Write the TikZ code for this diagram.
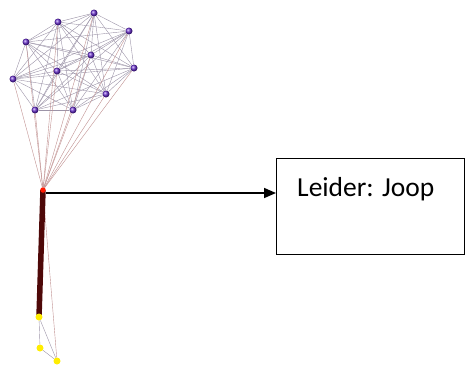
\documentclass[tikz,border=0pt]{standalone}
\usepackage{fontspec}
\setmainfont{Carlito}
\usetikzlibrary{arrows.meta,backgrounds}
\definecolor{paars}{HTML}{6A2FD0}
\definecolor{lijnpaars}{HTML}{9C94A8}
\definecolor{lijnrood}{HTML}{C09090}
\definecolor{bruinrood}{HTML}{4E0808}
\begin{document}
\begin{tikzpicture}[x=1pt,y=-1pt,
    lid/.style={circle,inner sep=0pt,minimum size=7pt,ball color=paars},
    geel/.style={circle,inner sep=0pt,minimum size=7pt,fill=yellow!95!orange},
    leider/.style={circle,inner sep=0pt,minimum size=5.5pt,fill=red!80!orange},
    dun/.style={lijnpaars,line width=0.4pt},
    dunrood/.style={lijnrood,line width=0.4pt},
    pijl/.style={line width=1.6pt,-{Triangle[length=12pt,width=10pt]}}]
    \useasboundingbox (0,0) rectangle (465,367);
    % groep
    \foreach \n/\x/\y in {1/94/13,2/58/22,3/129/31,4/26/42,5/91/55,6/134/68,
                          7/57/71,8/13/79,9/106/94,10/35/110,11/73/110}
        \node[lid] (p\n) at (\x,\y) {};
    \node[leider] (lead) at (43,190) {};
    \node[geel] (g1) at (39,317) {};
    \node[geel] (g2) at (40,348) {};
    \node[geel] (g3) at (57,361) {};
    %
    \begin{pgfonlayer}{background}
        \foreach \i in {1,...,10} {
            \pgfmathtruncatemacro{\k}{\i+1}
            \foreach \j in {\k,...,11}
                \draw[dun] (p\i) -- (p\j);
        }
        \foreach \i in {1,...,11}
            \draw[dunrood] (lead) -- (p\i);
        \draw[dunrood] (lead) -- (g3);
        \draw[dun] (g1) -- (g2);
        \draw[dun] (g2) -- (g3);
        \draw[dun] (g1) -- (g3);
        \draw[bruinrood,line width=5.5pt] (lead.center) -- (g1.center);
    \end{pgfonlayer}
    %
    \node[draw,line width=1.4pt,minimum width=188,minimum height=96,
          anchor=north west,inner sep=0pt] (box) at (276,158) {};
    \node[anchor=base west,inner sep=0pt,font=\fontsize{27.5}{32}\selectfont]
        (naam) at (297,196) {Leider: Joop};
    \coordinate (aan) at ([yshift=-3pt]lead.east);
    \draw[pijl] (aan) -- (aan -| box.west);
\end{tikzpicture}
\end{document}
